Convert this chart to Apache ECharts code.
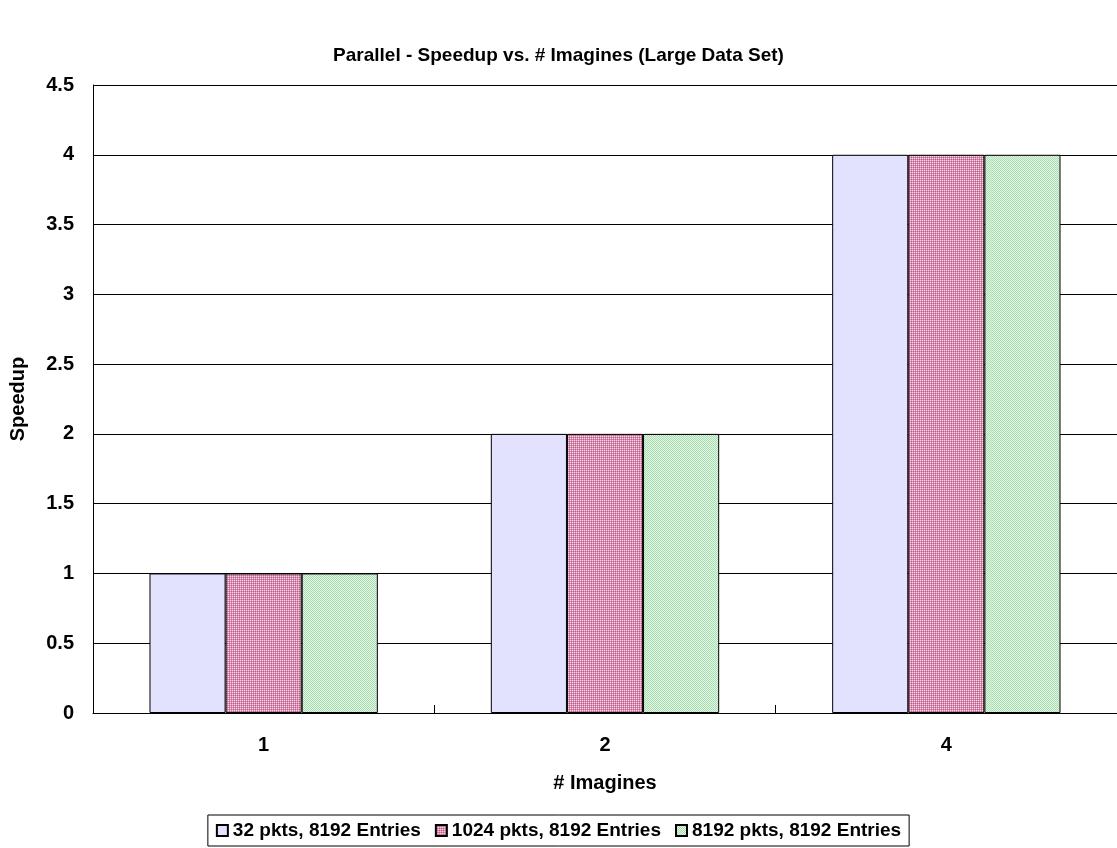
<!DOCTYPE html>
<html>
<head>
<meta charset="utf-8">
<script src="https://cdn.jsdelivr.net/npm/echarts@6/dist/echarts.min.js"></script>
<style>html,body{margin:0;padding:0;background:#fff;}#c{width:1117px;height:848px;}</style>
</head>
<body>
<div id="c"></div>
<script>
const categories = ['1', '2', '4'];
const seriesNames = ['32 pkts, 8192 Entries', '1024 pkts, 8192 Entries', '8192 pkts, 8192 Entries'];
const s32 = [1, 2, 4];
const s1024 = [1, 2, 4];
const s8192 = [1, 2, 4];
const yTicks = [0, 0.5, 1, 1.5, 2, 2.5, 3, 3.5, 4, 4.5];

function pattern(cells, n) {
  const c = document.createElement('canvas');
  c.width = n; c.height = n;
  const ctx = c.getContext('2d');
  for (let y = 0; y < n; y++) for (let x = 0; x < n; x++) {
    ctx.fillStyle = cells[y][x];
    ctx.fillRect(x, y, 1, 1);
  }
  return { image: c, repeat: 'repeat' };
}
const pinkPat = pattern([['#f6dce9', '#d88cb0'], ['#d88cb0', '#c0608c']], 2);
const greenPat = pattern([['#a8dcb0', '#e4f6e6'], ['#e4f6e6', '#a8dcb0']], 2);
const colors = ['#e2e2ff', pinkPat, greenPat];
const font = '"Liberation Sans", Arial, sans-serif';

const chart = echarts.init(document.getElementById('c'));
const data = [s32, s1024, s8192];
chart.setOption({
  animation: false,
  backgroundColor: '#fff',
  title: {
    text: 'Parallel - Speedup vs. # Imagines (Large Data Set)',
    left: 'center', top: 41,
    textStyle: { fontFamily: font, fontWeight: 'bold', fontSize: 19, color: '#000' }
  },
  legend: {
    bottom: 2, left: 'center',
    data: seriesNames,
    itemWidth: 11, itemHeight: 11, itemGap: 14,
    icon: 'rect',
    borderColor: '#000', borderWidth: 1,
    padding: [6, 8, 6, 8],
    textStyle: { fontFamily: font, fontWeight: 'bold', fontSize: 19, color: '#000' }
  },
  grid: { left: 92, right: 0, top: 85, bottom: 135 },
  xAxis: {
    type: 'category', data: categories, boundaryGap: true,
    name: '# Imagines', nameLocation: 'middle', nameGap: 60,
    nameTextStyle: { fontFamily: font, fontWeight: 'bold', fontSize: 20, color: '#000' },
    axisLine: { lineStyle: { color: '#000', width: 1 } },
    axisTick: { show: true, interval: 0, inside: true, length: 8, alignWithLabel: false, lineStyle: { color: '#000', width: 1 } },
    axisLabel: { fontFamily: font, fontWeight: 'bold', fontSize: 20, color: '#000', margin: 22 }
  },
  yAxis: {
    type: 'value', min: 0, max: 4.5, interval: 0.5,
    name: 'Speedup', nameLocation: 'middle', nameGap: 65,
    nameTextStyle: { fontFamily: font, fontWeight: 'bold', fontSize: 20, color: '#000' },
    axisLine: { show: true, lineStyle: { color: '#000', width: 1 } },
    axisTick: { show: true, inside: true, length: 5, lineStyle: { color: '#000' } },
    axisLabel: { fontFamily: font, fontWeight: 'bold', fontSize: 20, color: '#000', margin: 19,
      formatter: v => yTicks.includes(v) ? String(v) : '' },
    splitLine: { lineStyle: { color: '#000', width: 1 } }
  },
  series: seriesNames.map((n, i) => ({
    name: n, type: 'bar', data: data[i],
    barWidth: '22.3%', barGap: '0%',
    itemStyle: { color: colors[i], borderColor: '#000', borderWidth: 1 }
  }))
});
</script>
</body>
</html>
